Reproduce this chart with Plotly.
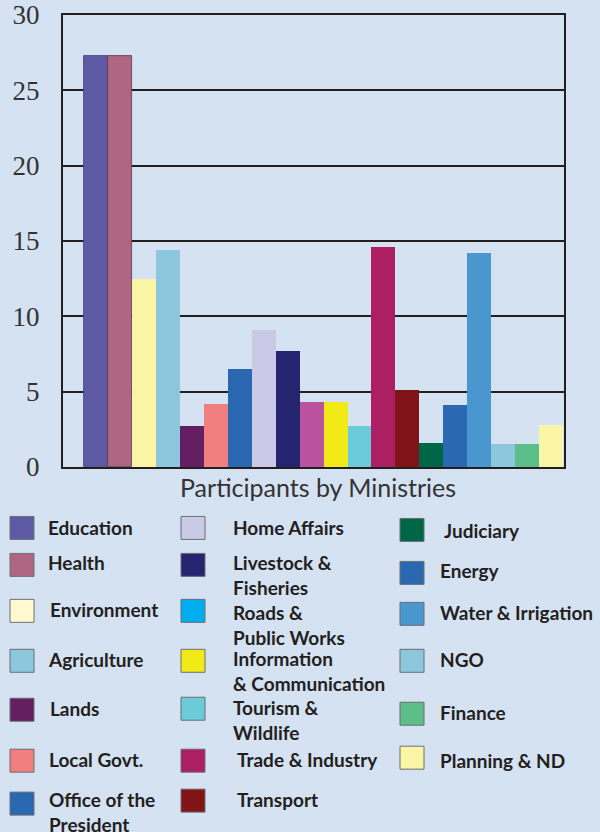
import plotly.graph_objects as go

W, H = 600, 832
L, R, T, B = 63, 564, 15, 467.5

ministries = ["Education", "Health", "Environment", "Agriculture", "Lands", "Local Govt.",
              "Office of the President", "Home Affairs", "Livestock & Fisheries",
              "Roads & Public Works", "Information & Communication", "Tourism & Wildlife",
              "Trade & Industry", "Transport", "Judiciary", "Energy", "Water & Irrigation",
              "NGO", "Finance", "Planning & ND"]
participants = [27.3, 27.3, 12.5, 14.4, 2.7, 4.2, 6.5, 9.1, 7.7, 4.3, 4.3, 2.7,
                14.6, 5.1, 1.6, 4.1, 14.2, 1.5, 1.5, 2.8]
bar_colors = ["#5e5aa6", "#ae6682", "#faf5a5", "#8dc7de", "#631f62", "#f27f80", "#2a69b2",
              "#cbcae6", "#25256f", "#ba52a0", "#f2ea17", "#6bcbdb", "#ac1f63", "#801416",
              "#006746", "#2a69b2", "#4a96cf", "#8dc7de", "#5cbf8a", "#faf5a5"]
legend_labels = ["Education", "Health", "Environment", "Agriculture", "Lands", "Local Govt.",
                 "Office of the<br>President", "Home Affairs", "Livestock &<br>Fisheries",
                 "Roads &<br>Public Works", "Information<br>& Communication", "Tourism &<br>Wildlife",
                 " Trade & Industry", " Transport", " Judiciary", "Energy", "Water & Irrigation",
                 "NGO", "Finance", "Planning & ND"]
legend_colors = ["#5e5aa6", "#ae6682", "#fff9d0", "#8dc7de", "#631f62", "#f27f80", "#2a69b2",
                 "#cbcae6", "#25256f", "#00aeef", "#f2ea17", "#6bcbdb", "#ac1f63", "#801416",
                 "#006746", "#2a69b2", "#4a96cf", "#8dc7de", "#5cbf8a", "#faf5a5"]
y_ticks = [0, 5, 10, 15, 20, 25, 30]
chart_title = "Participants by Ministries"

# legend layout (pixel positions): swatch top, text x, text cap-top
sw_x = [10] * 7 + [181] * 7 + [400] * 6
sw_y = [517, 554, 600, 650, 699, 750, 793,
        517, 554, 600, 650, 698, 750, 790,
        519, 562, 603, 650, 703, 747]
tx_x = [46, 46, 48, 46, 48, 47, 47,
        231, 231, 231, 231, 231, 231, 231,
        438, 438, 438, 438, 438, 438]
tx_y = [520, 555, 602, 652, 701, 752, 792,
        520, 555, 605, 651, 700, 752, 792,
        523, 563, 605, 652, 705, 753]


def px(x):
    return (x - L) / (R - L)


def py(y):
    return (B - y) / (B - T)


fig = go.Figure()
line_cols = ["#3d3a7a", "#5a3348"] + bar_colors[2:]
line_w = [0.8, 0.8] + [0] * 18
fig.add_trace(go.Bar(
    x=list(range(len(ministries))), y=participants,
    marker=dict(color=bar_colors, line=dict(color=line_cols, width=line_w)),
    hovertext=ministries, width=1.0,
))

shapes = []
annotations = []
for i, lab in enumerate(legend_labels):
    shapes.append(dict(type="rect", xref="paper", yref="paper",
                       x0=px(sw_x[i]), x1=px(sw_x[i] + 24),
                       y0=py(sw_y[i]), y1=py(sw_y[i] + 23),
                       fillcolor=legend_colors[i], line=dict(color="#6d6e71", width=1)))
    annotations.append(dict(text=lab, xref="paper", yref="paper",
                            x=px(tx_x[i]), y=py(tx_y[i] - 5), xanchor="left", yanchor="top",
                            align="left", showarrow=False,
                            font=dict(family="Lato", size=19, color="#231f20", weight="bold")))

annotations.append(dict(text=chart_title, xref="paper", yref="paper",
                        x=px(318), y=py(488), xanchor="center", yanchor="middle",
                        showarrow=False,
                        font=dict(family="Lato", size=25, color="#333333")))

fig.update_layout(
    width=W, height=H,
    margin=dict(l=L, r=W - R, t=T, b=H - B, pad=0, autoexpand=False),
    paper_bgcolor="#d5e2f2", plot_bgcolor="#d5e2f2",
    showlegend=False, bargap=0,
    shapes=shapes, annotations=annotations,
    xaxis=dict(range=[-1.38, 19.54], showticklabels=False, showgrid=False,
               zeroline=False, showline=True, linecolor="#231f20", linewidth=2, mirror=True,
               ticks="", fixedrange=True, automargin=False),
    yaxis=dict(range=[0, 30], tickvals=y_ticks, showgrid=True, gridcolor="#231f20",
               gridwidth=2, zeroline=False, showline=True, linecolor="#231f20",
               linewidth=2, mirror=True, ticks="", ticklabelstandoff=16,
               tickfont=dict(family="Liberation Serif", size=27, color="#333333"),
               fixedrange=True, automargin=False),
)

fig.write_html("out.html", config={"displayModeBar": False},
               post_script="document.body.style.margin='0';document.body.style.overflow='hidden';")
